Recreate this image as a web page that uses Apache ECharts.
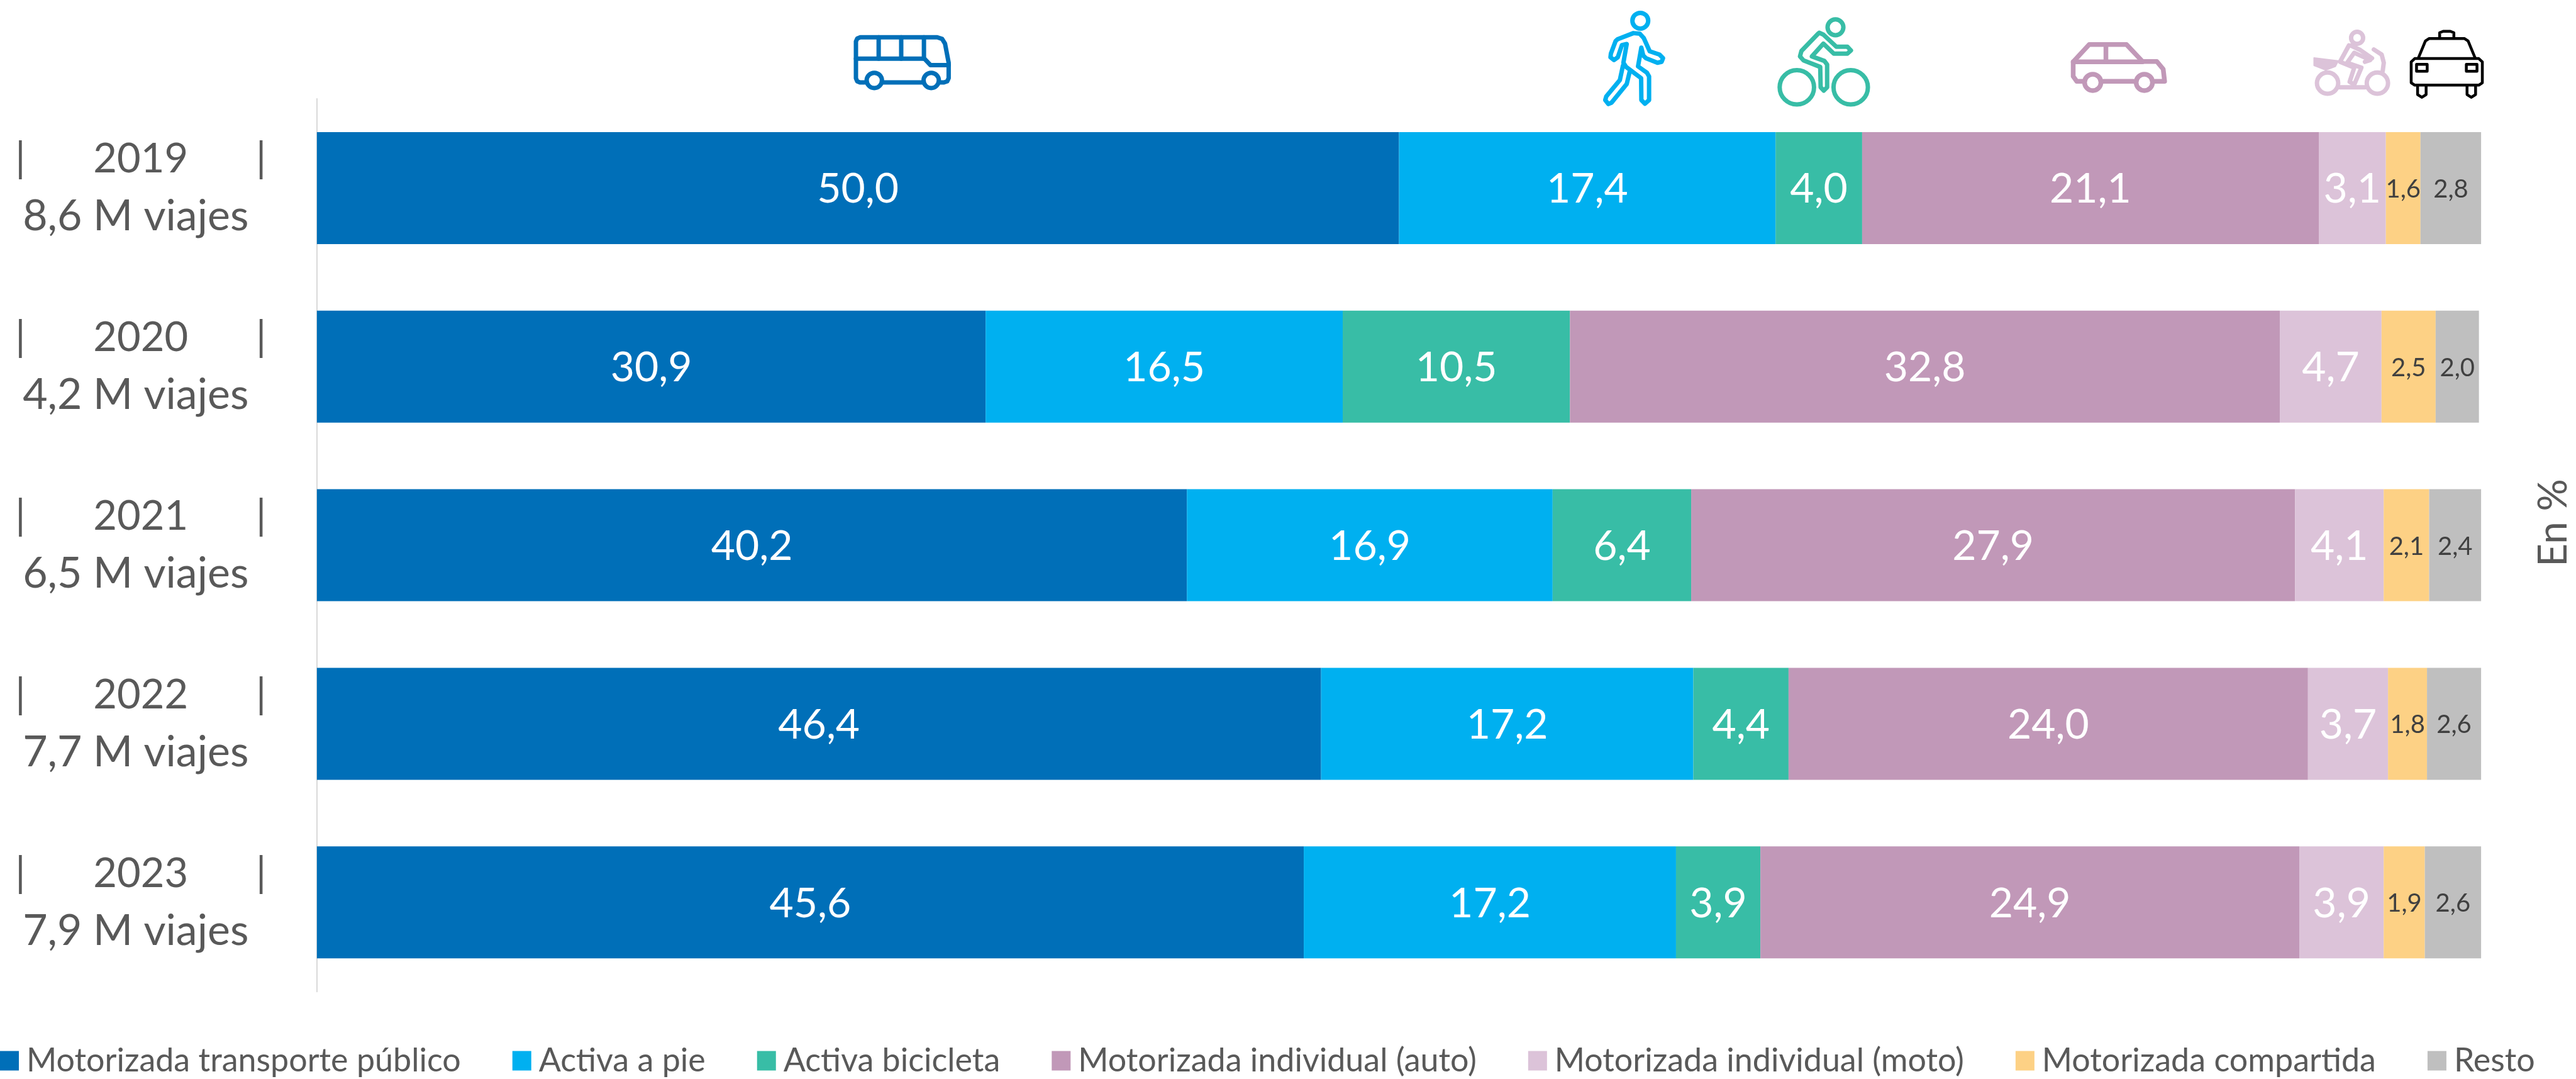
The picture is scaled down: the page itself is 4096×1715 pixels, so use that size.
<!DOCTYPE html>
<html><head><meta charset="utf-8">
<style>html,body{margin:0;padding:0;background:#fff}#c{width:4096px;height:1715px}</style>
<script src="https://cdn.jsdelivr.net/npm/echarts@6/dist/echarts.min.js"></script>
</head><body><div id="c"></div>
<script>
const years = ['2019','2020','2021','2022','2023'];
const trips = ['8,6 M viajes','4,2 M viajes','6,5 M viajes','7,7 M viajes','7,9 M viajes'];
const seriesNames = ['Motorizada transporte público','Activa a pie','Activa bicicleta','Motorizada individual (auto)','Motorizada individual (moto)','Motorizada compartida','Resto'];
const colors = ['#006FB8','#00B0F0','#38BDA6','#C198B8','#DCC3D9','#FDD185','#BFBFBF'];
const publico = [50.0,30.9,40.2,46.4,45.6];
const pie = [17.4,16.5,16.9,17.2,17.2];
const bicicleta = [4.0,10.5,6.4,4.4,3.9];
const auto = [21.1,32.8,27.9,24.0,24.9];
const moto = [3.1,4.7,4.1,3.7,3.9];
const compartida = [1.6,2.5,2.1,1.8,1.9];
const resto = [2.8,2.0,2.4,2.6,2.6];
const values = [publico,pie,bicicleta,auto,moto,compartida,resto];

const S = 4096/4723, FONT = 'Lato', GREY = '#595959';
const fmt = v => v.toFixed(1).replace('.',',');

// icon helpers: coordinates are in crop space (origin ox, per-axis magnification sx/sy of the reference)
function space(ox,sx,sy){
  const X=x=>(ox+x/sx)*S, Y=y=>(y/sy)*S;
  return {
    line:(pts,color,w,closed)=>({type:closed?'polygon':'polyline',silent:true,
      shape:{points:pts.map(p=>[X(p[0]),Y(p[1])])},
      style:{fill:null,stroke:color,lineWidth:w,lineJoin:'round',lineCap:'round'}}),
    fill:(pts,color)=>({type:'polygon',silent:true,shape:{points:pts.map(p=>[X(p[0]),Y(p[1])])},
      style:{fill:color,stroke:color,lineWidth:2,lineJoin:'round'}}),
    ring:(x,y,r,color,w)=>({type:'circle',silent:true,shape:{cx:X(x),cy:Y(y),r:r*S},
      style:{fill:'#fff',stroke:color,lineWidth:w}})
  };
}
function icons(){
  const out=[];
  let a=space(1450,3,3), c=colors[0], w=7;
  out.push(a.line([[405,453],[380,453],[365,447],[358,430],[358,228],[365,212],[382,205],[805,205],[832,214],[848,240],[868,345],[868,430],[860,447],[842,453],[825,453]],c,w));
  out.push(a.line([[510,453],[722,453]],c,w));
  out.push(a.line([[358,323],[735,323],[768,358],[868,358]],c,w));
  [483,607,732].forEach(x=>out.push(a.line([[x,205],[x,323]],c,w)));
  out.push(a.ring(459,442,14,c,w), a.ring(772,442,14,c,w));

  a=space(2880,2.613,3); c=colors[1]; w=7;
  out.push(a.ring(333,114,14.5,c,w));
  out.push(a.line([[300,182],[225,215],[215,225],[192,295],[190,315],[207,330],[225,315],[245,248],[268,242],[252,345],[265,368],[337,430],[338,550],[355,570],[375,550],[375,420],[365,400],[322,365],[338,262],[347,305],[360,320],[415,345],[435,340],[442,320],[425,300],[378,282],[350,210],[330,185]],c,w,true));
  out.push(a.line([[250,360],[235,440],[170,530],[165,550],[180,572],[195,565],[268,462],[282,395]],c,w));

  c=colors[2]; w=7;
  out.push(a.ring(1268,150,14.5,c,w), a.ring(1083,480,31.5,c,w), a.ring(1341,480,31.5,c,w));
  out.push(a.line([[1185,185],[1105,280],[1098,310],[1115,332],[1195,368],[1197,480],[1212,498],[1228,480],[1228,355],[1215,335],[1155,310],[1210,240],[1260,295],[1325,295],[1342,277],[1325,257],[1272,257],[1210,190],[1190,180]],c,w,true));

  a=space(3700,1.533,3); c=colors[3]; w=7.5;
  out.push(a.line([[185,447],[165,447],[155,420],[155,340],[200,245],[305,245],[350,338],[390,338],[408,380],[412,447],[385,447]],c,w));
  out.push(a.line([[240,447],[325,447]],c,w), a.line([[155,340],[350,340]],c,w), a.line([[247,245],[247,335]],c,w));
  out.push(a.ring(210,453,15,c,w), a.ring(355,453,15,c,w));

  c=colors[4]; w=7;
  out.push(a.ring(953,208,11,c,w), a.ring(870,457,19.5,c,w), a.ring(1010,457,19.5,c,w));
  out.push(a.line([[905,480],[975,480]],c,w));
  out.push(a.line([[1000,272],[1022,300],[1028,345],[1025,390]],c,w));
  out.push(a.fill([[832,318],[900,335],[892,365],[865,385],[832,360]],c));
  out.push(a.line([[930,250],[905,340],[945,372],[932,450],[945,465],[965,372],[925,345],[945,290],[990,330],[975,340]],c,w));
  out.push(a.line([[935,250],[962,275],[995,320]],c,w));

  c='#000'; w=4.5;
  out.push(a.line([[1185,208],[1185,180],[1195,172],[1215,172],[1225,180],[1225,208]],c,w));
  out.push(a.line([[1125,320],[1145,225],[1155,212],[1255,212],[1265,225],[1285,320]],c,w));
  out.push(a.line([[1105,340],[1115,322],[1295,322],[1305,340],[1305,455],[1295,468],[1115,468],[1105,455]],c,w,true));
  out.push(a.line([[1120,354],[1150,354],[1150,392],[1120,392]],c,w,true));
  out.push(a.line([[1260,354],[1290,354],[1290,392],[1260,392]],c,w,true));
  [1123,1262].forEach(x=>out.push(a.line([[x,468],[x,520],[x+12,535],[x+24,520],[x+24,468]],c,w)));
  return out;
}

const chart = echarts.init(document.getElementById('c'),null,{renderer:'canvas'});
chart.setOption({
  animation:false,
  backgroundColor:'#fff',
  textStyle:{fontFamily:FONT},
  grid:{left:581*S,right:(4723-4549)*S,top:181*S,bottom:(1977-1817)*S,containLabel:false},
  xAxis:{type:'value',min:0,max:100,show:false},
  yAxis:{type:'category',inverse:true,data:years,
    axisLine:{show:true,lineStyle:{color:'#D9D9D9',width:2}},
    axisTick:{show:false},
    axisLabel:{align:'center',margin:(581-258)*S,color:GREY,fontFamily:FONT,fontSize:66,lineHeight:91,
      rich:{a:{fontFamily:FONT,fontSize:65,lineHeight:91,color:GREY},
            y:{fontFamily:FONT,fontSize:65,lineHeight:91,color:GREY,padding:[0,8,0,8]},
            b:{fontFamily:FONT,fontSize:68,lineHeight:91,color:GREY,padding:[0,16,0,0]}},
      formatter:(y,i)=>'{a||      }{y|'+y+'}{a|      |}\n{b|'+trips[i]+'}'}},
  legend:{left:0,top:1660,padding:0,itemWidth:30,itemHeight:31,itemGap:82,icon:'rect',
    textStyle:{color:GREY,fontFamily:FONT,fontSize:52,padding:[0,0,0,7]},data:seriesNames},
  series:seriesNames.map((n,k)=>({
    name:n,type:'bar',stack:'t',barWidth:'62.7%',
    itemStyle:{color:colors[k]},
    label:{show:true,position:'inside',offset:[0,2],fontFamily:FONT,
      color:k>=5?'#404040':'#fff',fontSize:k>=5?40:66,
      formatter:p=>fmt(p.value)},
    data:values[k]
  })),
  graphic:[{type:'text',silent:true,x:4060,y:831,rotation:Math.PI/2,
    style:{text:'En %',fill:GREY,font:'64px '+FONT,align:'center',verticalAlign:'middle'}}].concat(icons())
});
</script></body></html>
